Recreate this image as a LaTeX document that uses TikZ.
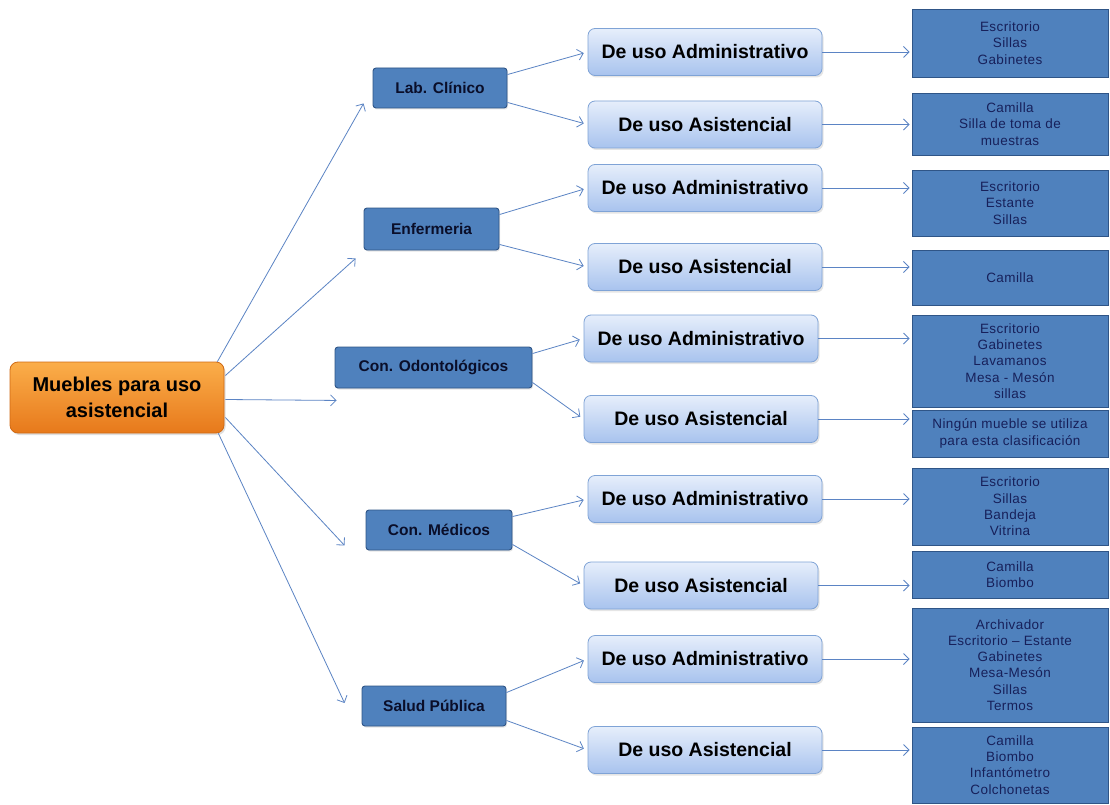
\documentclass[tikz,border=0pt]{standalone}
\usepackage{fontspec}
\setmainfont{Liberation Sans}
\usetikzlibrary{arrows.meta,shadows,calc}
\definecolor{orA}{HTML}{FBAE4A}
\definecolor{orB}{HTML}{E7791B}
\definecolor{orD}{HTML}{D06A14}
\definecolor{blF}{HTML}{4F81BD}
\definecolor{blD}{HTML}{2F5587}
\definecolor{ltA}{HTML}{E6EEFB}
\definecolor{ltB}{HTML}{A8C3EE}
\definecolor{ltD}{HTML}{7FA3D6}
\definecolor{navy}{HTML}{17205A}
\definecolor{arrc}{HTML}{5B84C4}
\tikzset{
  x=1pt,y=-1pt,
  rootbox/.style={rounded corners=8pt,draw=orD,line width=0.8pt,top color=orA,bottom color=orB,
    minimum width=214pt,minimum height=71pt,align=center,
    font=\fontsize{20}{26}\selectfont\bfseries,text=black,
    drop shadow={opacity=0.25,shadow xshift=1.5pt,shadow yshift=-2pt}},
  catbox/.style={rounded corners=3pt,draw=blD,line width=0.9pt,fill=blF,
    minimum height=40pt,font=\fontsize{15.5}{18}\selectfont\bfseries,text=navy!45!black,
    drop shadow={opacity=0.2,shadow xshift=1pt,shadow yshift=-1.5pt}},
  usebox/.style={rounded corners=7pt,draw=ltD,line width=0.8pt,top color=ltA,bottom color=ltB,
    minimum width=234pt,minimum height=47pt,font=\fontsize{19.5}{22}\selectfont\bfseries,text=black,
    drop shadow={opacity=0.2,shadow xshift=1.5pt,shadow yshift=-2pt}},
  leafbox/.style={draw=blD,line width=0.9pt,fill=blF,minimum width=196pt,align=center,
    font=\fontsize{13.5}{16.3}\selectfont\addfontfeature{LetterSpace=3},text=navy},
  arr/.style={draw=arrc,line width=0.8pt,-{Straight Barb[length=5.5pt,width=11pt]}},
}
\begin{document}
\begin{tikzpicture}
\useasboundingbox (0,0) rectangle (1110,805);
\fill[white] (0,0) rectangle (1110,805);
% root
\node[rootbox] (root) at (117,397.5) {Muebles para uso\\asistencial};
% categories
\node[catbox,minimum width=134pt] (lab) at (440,88) {Lab. Clínico};
\node[catbox,minimum width=135pt,minimum height=42pt] (enf) at (431.5,229) {Enfermeria};
\node[catbox,minimum width=197pt,minimum height=41pt] (odo) at (433.5,367.5) {Con. Odontológicos};
\node[catbox,minimum width=146pt] (med) at (439,530) {Con. Médicos};
\node[catbox,minimum width=144pt] (sp) at (434,706) {Salud Pública};
% use types
\node[usebox] (la1) at (705,52) {De uso Administrativo};
\node[usebox] (la2) at (705,124.5) {De uso Asistencial};
\node[usebox] (en1) at (705,188) {De uso Administrativo};
\node[usebox] (en2) at (705,267) {De uso Asistencial};
\node[usebox] (od1) at (701,338.5) {De uso Administrativo};
\node[usebox] (od2) at (701,419) {De uso Asistencial};
\node[usebox] (me1) at (705,499) {De uso Administrativo};
\node[usebox] (me2) at (701,585.5) {De uso Asistencial};
\node[usebox] (sp1) at (705,659) {De uso Administrativo};
\node[usebox] (sp2) at (705,750) {De uso Asistencial};
% leaves
\node[leafbox,minimum height=68pt] (f1) at (1010,43) {Escritorio\\Sillas\\Gabinetes};
\node[leafbox,minimum height=62pt] (f2) at (1010,124) {Camilla\\Silla de toma de\\muestras};
\node[leafbox,minimum height=66pt] (f3) at (1010,203) {Escritorio\\Estante\\Sillas};
\node[leafbox,minimum height=55pt] (f4) at (1010,277.5) {Camilla};
\node[leafbox,minimum height=92pt] (f5) at (1010,361) {Escritorio\\Gabinetes\\Lavamanos\\Mesa - Mesón\\sillas};
\node[leafbox,minimum height=47pt] (f6) at (1010,433.5) {Ningún mueble se utiliza\\para esta clasificación};
\node[leafbox,minimum height=77pt] (f7) at (1010,506.5) {Escritorio\\Sillas\\Bandeja\\Vitrina};
\node[leafbox,minimum height=47pt] (f8) at (1010,574.5) {Camilla\\Biombo};
\node[leafbox,minimum height=114pt] (f9) at (1010,665) {Archivador\\Escritorio – Estante\\Gabinetes\\Mesa-Mesón\\Sillas\\Termos};
\node[leafbox,minimum height=76pt] (f10) at (1010,765) {Camilla\\Biombo\\Infantómetro\\Colchonetas};
% root arrows
\draw[arr] ($(root.north east)+(-7,0)$) -- ($(lab.south west)+(-9,-5)$);
\draw[arr] ($(root.east)+(1,-22)$) -- ($(enf.south west)+(-8,8)$);
\draw[arr] ($(root.east)+(1,2)$) -- ($(odo.south west)+(2,12)$);
\draw[arr] ($(root.east)+(1,20)$) -- ($(med.south west)+(-21,-5)$);
\draw[arr] ($(root.south east)+(-6,0)$) -- ($(sp.west)+(-17,-3)$);
% category arrows
\foreach \c/\a/\b in {lab/la1/la2,enf/en1/en2,odo/od1/od2,med/me1/me2,sp/sp1/sp2}{
  \draw[arr,shorten >=4pt] ($(\c.north east)+(0,7)$) -- (\a.west);
  \draw[arr,shorten >=4pt] ($(\c.south east)+(0,-6)$) -- (\b.west);
}
% leaf arrows
\foreach \a/\f in {la1/f1,la2/f2,en1/f3,en2/f4,od1/f5,od2/f6,me1/f7,me2/f8,sp1/f9,sp2/f10}{
  \draw[arr,shorten >=2pt] (\a.east) -- (\a.east -| \f.west);
}
\end{tikzpicture}
\end{document}
